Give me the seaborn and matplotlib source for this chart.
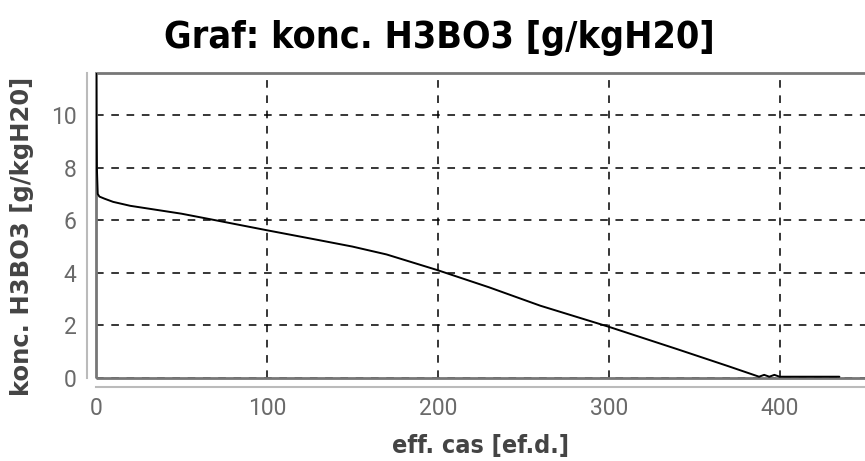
import numpy as np
import pandas as pd
import seaborn as sns
import matplotlib.pyplot as plt
from matplotlib.patches import Rectangle

# --- données ---
eff_cas = [0, 0.2, 0.5, 1.0, 2, 5, 10, 20, 35, 50, 70, 100, 130, 150, 170,
           190, 200, 230, 260, 300, 340, 370, 388, 391, 394, 397, 400, 420, 435]
konc = [12.5, 10.0, 8.0, 7.0, 6.9, 6.82, 6.7, 6.55, 6.4, 6.25, 6.0, 5.62, 5.25,
        5.0, 4.7, 4.3, 4.1, 3.45, 2.75, 1.95, 1.1, 0.45, 0.05, 0.12, 0.05, 0.12,
        0.05, 0.05, 0.05]

df = pd.DataFrame({'eff. cas [ef.d.]': eff_cas, 'konc': konc})

sns.set_style('white')
plt.rcParams['font.family'] = ['DejaVu Sans']

fig = plt.figure(figsize=(8.65, 4.61), dpi=100)
ax = fig.add_axes([0.111, 0.180, 0.889, 0.6616])

sns.lineplot(data=df, x='eff. cas [ef.d.]', y='konc', color='black',
             linewidth=1.4, ax=ax, estimator=None, sort=False)

ax.set_xlim(0, 450)
ax.set_ylim(0, 11.6)
ax.set_xticks([0, 100, 200, 300, 400])
ax.set_yticks([0, 2, 4, 6, 8, 10])

# grille pointillée noire
ax.grid(True, color='black', linestyle=(0, (5, 5)), linewidth=1.1)

# cadre intérieur gris
ax.add_patch(Rectangle((0, 0), 1.2, 1, transform=ax.transAxes, fill=False,
                       edgecolor='#777777', linewidth=2, clip_on=False, zorder=1.5))

# axes décalés
for s in ['top', 'right']:
    ax.spines[s].set_visible(False)
for s in ['left', 'bottom']:
    ax.spines[s].set_position(('outward', 6.5))
    ax.spines[s].set_color('#bbbbbb')
    ax.spines[s].set_linewidth(1.5)
ax.tick_params(axis='both', colors='#bbbbbb', length=4, width=1.2,
               labelcolor='#6a6a6a', labelsize=16.5)
for lab in ax.get_xticklabels() + ax.get_yticklabels():
    lab.set_family('Roboto')

ax.set_xlabel('eff. cas [ef.d.]', fontsize=18, fontweight='bold',
              fontstretch='condensed', color='#444444', labelpad=10)
ax.set_ylabel('konc. H3BO3 [g/kgH20]', fontsize=17.5, fontweight='bold',
              color='#444444')
ax.yaxis.set_label_coords(-0.081, 0.465)

fig.text(0.508, 0.918, 'Graf: konc. H3BO3 [g/kgH20]', ha='center',
         va='center', fontsize=27, fontweight='bold',
         fontstretch='condensed', color='black')

fig.savefig('out.png', dpi=100)
